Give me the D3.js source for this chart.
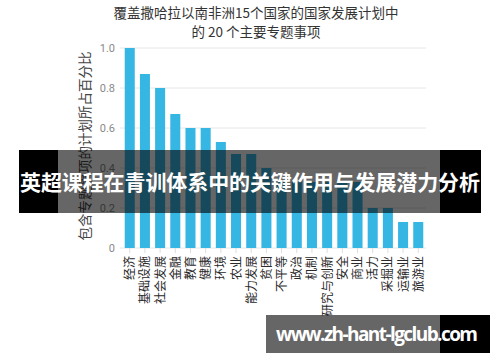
<!DOCTYPE html>
<html>
<head>
<meta charset="utf-8">
<script src="https://cdn.jsdelivr.net/npm/d3@7"></script>
<style>
  body { margin: 0; background: #fff; }
  svg { font-family: "Noto Sans CJK SC", "Noto Sans", sans-serif; }
</style>
</head>
<body>
<svg id="chart" width="500" height="362"></svg>
<script>
// Chart data
const categories = ["经济", "基础设施", "社会发展", "金融", "教育", "健康", "环境", "农业", "能力发展", "贫困",
  "不平等", "政治", "机制", "研究与创新", "安全", "商业", "活力", "采掘业", "运输业", "旅游业"];
const shares = [1.0, 0.87, 0.8, 0.67, 0.6, 0.6, 0.53, 0.47, 0.47, 0.4,
  0.33, 0.33, 0.33, 0.33, 0.33, 0.33, 0.2, 0.2, 0.13, 0.13];
const yTicks = [0, 0.2, 0.4, 0.6, 0.8, 1.0];
const titleLines = ["覆盖撒哈拉以南非洲15个国家的国家发展计划中", "的 20 个主要专题事项"];
const yLabel = "包含专题事项的计划所占百分比";
const bannerText = "英超课程在青训体系中的关键作用与发展潜力分析";
const siteText = "www.zh-hant-lgclub.com";

const svg = d3.select("#chart");

// Scales
const x = d3.scaleBand()
  .domain(categories)
  .range([122, 426])
  .paddingInner(0.34)
  .paddingOuter(0.18);

const y = d3.scaleLinear()
  .domain([0, 1])
  .range([248, 48]);

// Gridlines
svg.append("g")
  .selectAll("line")
  .data(yTicks)
  .join("line")
  .attr("x1", 120)
  .attr("x2", 426)
  .attr("y1", d => y(d))
  .attr("y2", d => y(d))
  .attr("stroke", "#e6e6e6")
  .attr("stroke-width", 1);

// Y tick labels
svg.append("g")
  .selectAll("text")
  .data(yTicks)
  .join("text")
  .attr("x", 115)
  .attr("y", d => y(d))
  .attr("dy", "0.35em")
  .attr("text-anchor", "end")
  .attr("fill", "#8a8a8a")
  .style("font-family", "Roboto, sans-serif")
  .style("font-size", "11px")
  .text(d => d === 0 ? "0" : d.toFixed(1));

// Small x ticks
svg.append("g")
  .selectAll("line")
  .data(categories)
  .join("line")
  .attr("x1", d => x(d) + x.bandwidth() / 2)
  .attr("x2", d => x(d) + x.bandwidth() / 2)
  .attr("y1", 248)
  .attr("y2", 253)
  .attr("stroke", "#dddddd");

// Bars
svg.append("g")
  .selectAll("rect")
  .data(shares)
  .join("rect")
  .attr("x", (d, i) => x(categories[i]))
  .attr("y", d => y(d))
  .attr("width", x.bandwidth())
  .attr("height", d => y(0) - y(d))
  .attr("fill", "#36b6e3");

// X labels, rotated
svg.append("g")
  .selectAll("text")
  .data(categories)
  .join("text")
  .attr("transform", d => `translate(${x(d) + x.bandwidth() / 2 + 4.5},256) rotate(-90)`)
  .attr("text-anchor", "end")
  .attr("fill", "#2a2a2a")
  .style("font-size", "12px")
  .text(d => d);

// Y axis title
svg.append("text")
  .attr("transform", "translate(90,146) rotate(-90)")
  .attr("text-anchor", "middle")
  .attr("fill", "#444")
  .style("font-size", "13.5px")
  .text(yLabel);

// Title
svg.append("g")
  .selectAll("text")
  .data(titleLines)
  .join("text")
  .attr("x", 256)
  .attr("y", (d, i) => 18 + i * 19)
  .attr("text-anchor", "middle")
  .attr("fill", "#333")
  .style("font-size", "13.5px")
  .text(d => d);

// Banner across the middle: black ends, translucent centre
const banner = svg.append("g");
banner.append("rect").attr("x", 19).attr("y", 150).attr("width", 39).attr("height", 63).attr("fill", "#000");
banner.append("rect").attr("x", 58).attr("y", 150).attr("width", 382).attr("height", 63).attr("fill", "rgba(0,0,0,0.6)");
banner.append("rect").attr("x", 440).attr("y", 150).attr("width", 41).attr("height", 63).attr("fill", "#000");
banner.append("text")
  .attr("x", 250)
  .attr("y", 182)
  .attr("dy", "0.36em")
  .attr("text-anchor", "middle")
  .attr("fill", "#fff")
  .style("font-size", "21px")
  .style("font-weight", "bold")
  .attr("textLength", 460)
  .text(bannerText);

// Site label at the bottom
const site = svg.append("g");
site.append("rect").attr("x", 266).attr("y", 315).attr("width", 174).attr("height", 38).attr("fill", "rgba(0,0,0,0.6)");
site.append("rect").attr("x", 440).attr("y", 315).attr("width", 50).attr("height", 38).attr("fill", "#000");
site.append("text")
  .attr("x", 377)
  .attr("y", 334)
  .attr("dy", "0.36em")
  .attr("text-anchor", "middle")
  .attr("fill", "#fff")
  .style("font-family", "'Open Sans', 'DejaVu Sans', sans-serif")
  .style("font-size", "19px")
  .style("font-weight", "bold")
  .attr("textLength", 202)
  .text(siteText);
</script>
</body>
</html>
